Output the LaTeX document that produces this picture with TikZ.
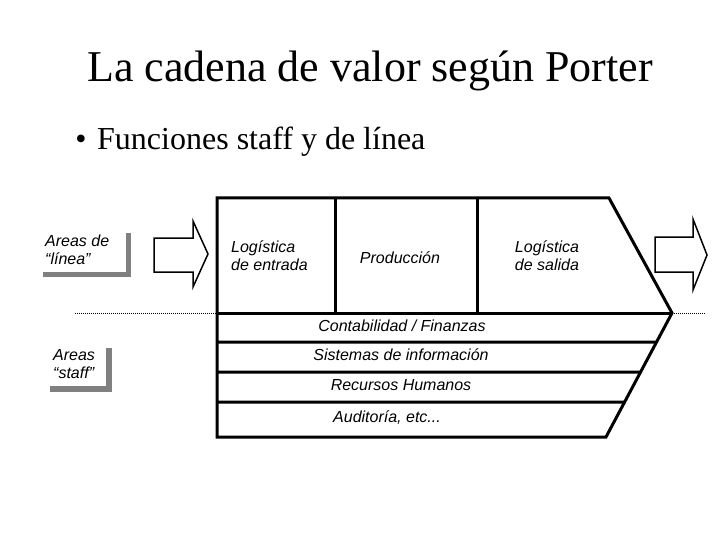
\documentclass[tikz,border=0pt]{standalone}
\usepackage{fontspec}
\usetikzlibrary{calc}
\setmainfont{Liberation Serif}
\newfontfamily\arialfont{Liberation Sans}
\definecolor{shadowgray}{HTML}{808080}
\begin{document}
\begin{tikzpicture}[x=1pt,y=-1pt,
  lab/.style={font=\arialfont\itshape\fontsize{16}{18}\selectfont, inner sep=0pt, align=center},
  thickline/.style={line width=3pt, line join=miter},
  blockarrow/.style={draw, line width=1.5pt, fill=white, line join=miter},
  shadowbar/.style={draw=shadowgray, line width=5.5pt, line join=miter, line cap=butt},
  dotline/.style={line width=1pt, dash pattern=on 1pt off 1pt}]
\useasboundingbox (0,0) rectangle (720,540);

% titles
\node[font=\fontsize{44}{50}\selectfont, anchor=base, inner sep=0pt] (title) at (370,82) {La cadena de valor según Porter};
\node[font=\fontsize{32}{36}\selectfont, anchor=base, inner sep=0pt] (bul) at (81,150) {\textbullet};
\node[font=\fontsize{32}{36}\selectfont, anchor=base west, inner sep=0pt] (sub) at (97,150) {Funciones staff y de línea};

% key coordinates
\coordinate (tl) at (217,198);
\coordinate (tr) at (609,198);
\coordinate (apex) at (672,313);
\coordinate (br) at (606,437);
\coordinate (bl) at (217,437);
\coordinate (ml) at (217,313);

% dotted separator
\coordinate (dl) at (75,313);
\coordinate (dr) at (705,313);
\draw[dotline] (dl) -- (ml);
\draw[dotline] (apex) -- (dr);

% value chain outline
\draw[thickline] (tl) -- (tr) -- (apex) -- (br) -- (bl) -- cycle;
\draw[thickline] (ml) -- (apex);
\draw[thickline] (335,198) -- (335,313);
\draw[thickline] (477,198) -- (477,313);
\draw[thickline] (217,342) -- ($(apex)!0.234!(br)$);
\draw[thickline] (217,372) -- ($(apex)!0.476!(br)$);
\draw[thickline] (217,402) -- ($(apex)!0.718!(br)$);

% block arrows
\draw[blockarrow] (154,238) -- (193,238) -- (193,221) -- (208,254) -- (193,287) -- (193,272) -- (154,272) -- cycle;
\draw[blockarrow] (655,237) -- (693,237) -- (693,219) -- (707,255) -- (693,290) -- (693,272) -- (655,272) -- cycle;

% shadow frames
\draw[shadowbar] (43,274.5) -- (128.5,274.5) -- (128.5,233);
\draw[shadowbar] (50,389) -- (109,389) -- (109,348);

% labels
\node[lab, align=left, anchor=west] (linea) at (45,250) {Areas de\\“línea”};
\node[lab, align=left, anchor=west] (staff) at (53,364) {Areas\\“staff”};
\node[lab, align=left, anchor=west] (login) at (231,256) {Logística\\de entrada};
\node[lab] (prod) at (400,258) {Producción};
\node[lab] (logout) at (547,256) {Logística\\de salida};
\node[lab] (conta) at (402,326) {Contabilidad / Finanzas};
\node[lab] (sist) at (401,355) {Sistemas de información};
\node[lab] (rrhh) at (401,385) {Recursos Humanos};
\node[lab, anchor=west] (audit) at (333,418) {Auditoría, etc...};
\end{tikzpicture}
\end{document}
